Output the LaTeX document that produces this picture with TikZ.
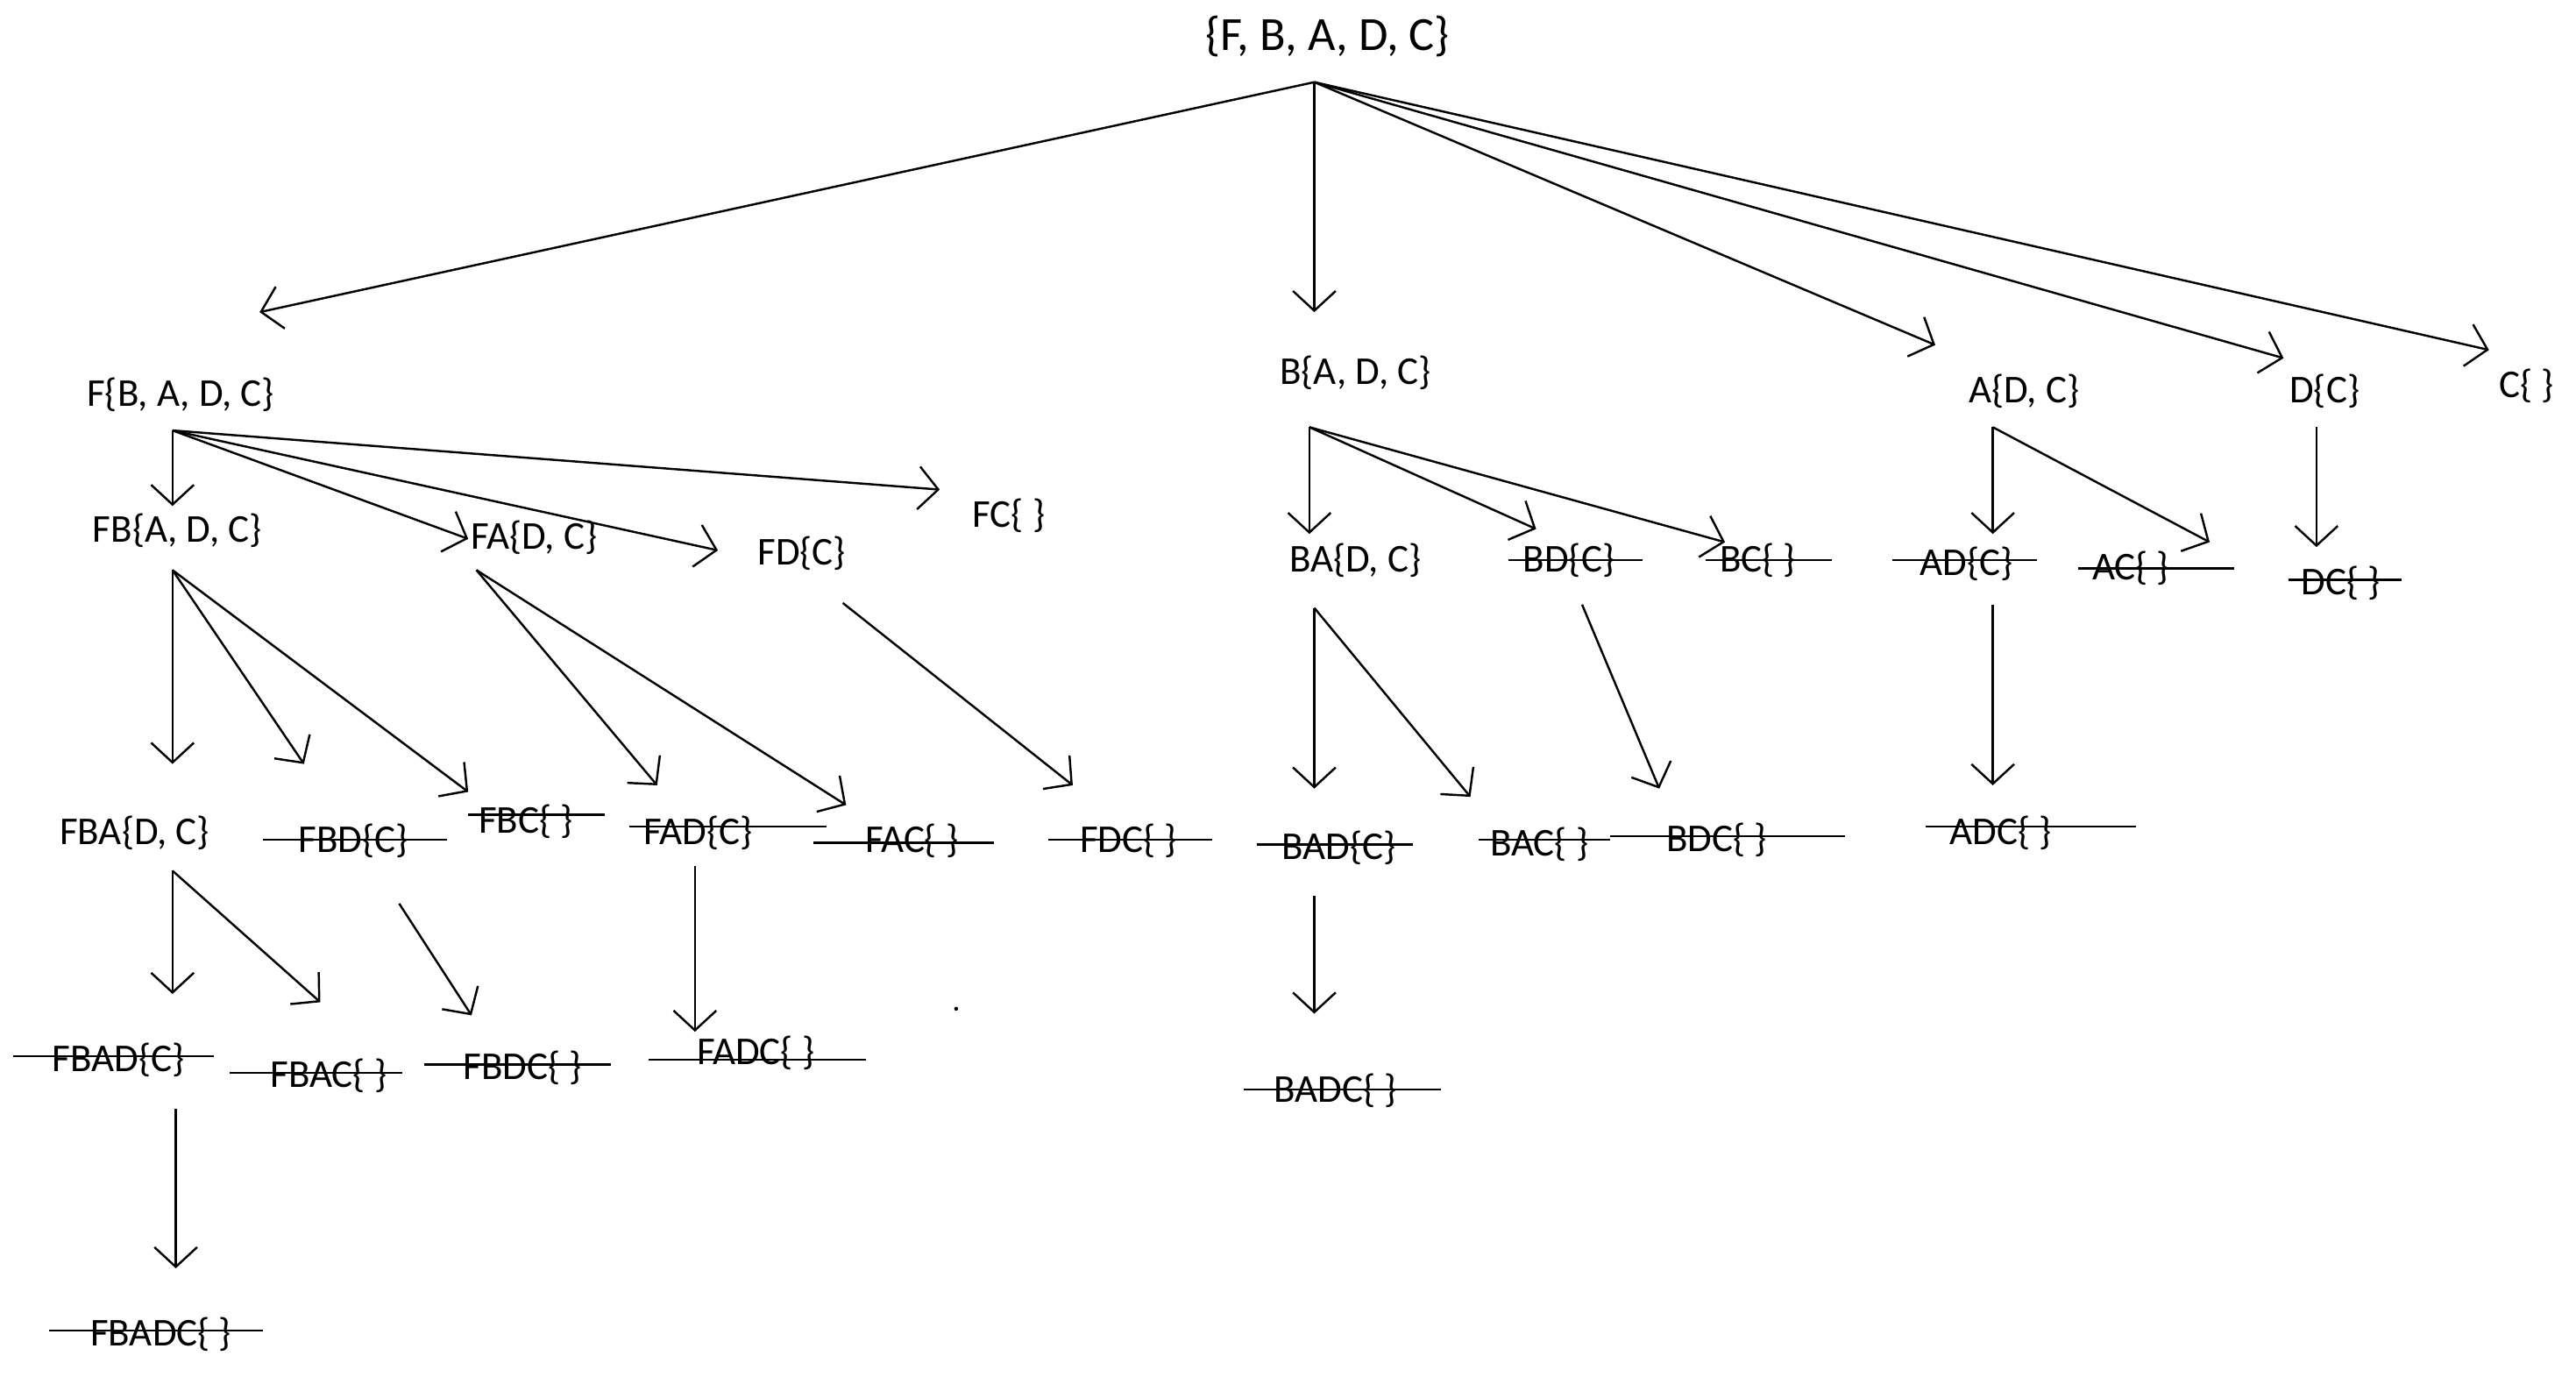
\documentclass[tikz,border=0pt]{standalone}
\usepackage{fontspec}
\setmainfont{Carlito}
\usetikzlibrary{arrows.meta}
\begin{document}
\begin{tikzpicture}[x=1pt,y=-1pt,
  lbl/.style={inner sep=0pt,font=\fontsize{24}{26}\selectfont},
  arr/.style={line width=1.3pt,-{Straight Barb[length=12pt,width=26pt,line width=1.3pt]}},
  strike/.style={line width=1.3pt}]
\useasboundingbox (0,0) rectangle (1568,838);
% nodes
\node[lbl,font=\fontsize{29}{31}\selectfont] (root) at (808,22) {\{F, B, A, D, C\}};
\node[lbl] (F) at (110,240) {F\{B, A, D, C\}};
\node[lbl] (B) at (825,227) {B\{A, D, C\}};
\node[lbl] (A) at (1232,238) {A\{D, C\}};
\node[lbl] (D) at (1415,238) {D\{C\}};
\node[lbl] (C) at (1538,235) {C\{ \}};
\node[lbl] (FB) at (108,323) {FB\{A, D, C\}};
\node[lbl] (FA) at (325,327) {FA\{D, C\}};
\node[lbl] (FD) at (488,337) {FD\{C\}};
\node[lbl] (FC) at (614,314) {FC\{ \}};
\node[lbl] (BA) at (825,341) {BA\{D, C\}};
\node[lbl] (BD) at (955,341) {BD\{C\}};
\node[lbl] (BC) at (1070,341) {BC\{ \}};
\node[lbl] (AD) at (1197,343) {AD\{C\}};
\node[lbl] (AC) at (1297,346) {AC\{ \}};
\node[lbl] (DC) at (1425,355) {DC\{ \}};
\node[lbl] (FBA) at (82,507) {FBA\{D, C\}};
\node[lbl] (FBD) at (215,512) {FBD\{C\}};
\node[lbl] (FBC) at (320,500) {FBC\{ \}};
\node[lbl] (FAD) at (425,507) {FAD\{C\}};
\node[lbl] (FAC) at (555,512) {FAC\{ \}};
\node[lbl] (FDC) at (687,512) {FDC\{ \}};
\node[lbl] (BAD) at (815,516) {BAD\{C\}};
\node[lbl] (BAC) at (937,514) {BAC\{ \}};
\node[lbl] (BDC) at (1045,511) {BDC\{ \}};
\node[lbl] (ADC) at (1218,507) {ADC\{ \}};
\node[lbl] (FBAD) at (72,645) {FBAD\{C\}};
\node[lbl] (FBAC) at (200,655) {FBAC\{ \}};
\node[lbl] (FBDC) at (318,650) {FBDC\{ \}};
\node[lbl] (FADC) at (460,641) {FADC\{ \}};
\node[lbl] (BADC) at (813,664) {BADC\{ \}};
\node[lbl] (FBADC) at (98,812) {FBADC\{ \}};
\fill (582,614) circle (1.2pt);
% connector coordinates
\coordinate (oR) at (800,50);
\coordinate (oF) at (105,262);
\coordinate (oB) at (797,260);
\coordinate (oA) at (1213,260);
\coordinate (oD) at (1410,260);
\coordinate (oFB) at (105,347);
\coordinate (oFA) at (290,347);
\coordinate (oFD) at (513,367);
\coordinate (oBA) at (800,370);
\coordinate (oBD) at (963,368);
\coordinate (oAD) at (1213,368);
\coordinate (oFBA) at (105,530);
\coordinate (oFBD) at (243,550);
\coordinate (oFAD) at (423,527);
\coordinate (oBAD) at (800,545);
\coordinate (oFBAD) at (107,675);
\coordinate (tF) at (158,190);
\coordinate (tB) at (800,190);
\coordinate (tA) at (1178,210);
\coordinate (tD) at (1390,218);
\coordinate (tC) at (1515,213);
\coordinate (tFB) at (105,308);
\coordinate (tFA) at (285,328);
\coordinate (tFD) at (437,335);
\coordinate (tFC) at (572,298);
\coordinate (tBA) at (797,325);
\coordinate (tBD) at (935,322);
\coordinate (tBC) at (1050,330);
\coordinate (tAD) at (1213,325);
\coordinate (tAC) at (1345,330);
\coordinate (tDC) at (1410,333);
\coordinate (tFBA) at (105,465);
\coordinate (tFBD) at (185,465);
\coordinate (tFBC) at (285,482);
\coordinate (tFAD) at (400,478);
\coordinate (tFAC) at (515,490);
\coordinate (tFDC) at (653,478);
\coordinate (tBAD) at (800,480);
\coordinate (tBAC) at (895,485);
\coordinate (tBDC) at (1010,480);
\coordinate (tADC) at (1213,478);
\coordinate (tFBAD) at (105,605);
\coordinate (tFBAC) at (195,610);
\coordinate (tFBDC) at (287,618);
\coordinate (tFADC) at (423,628);
\coordinate (tBADC) at (800,617);
\coordinate (tFBADC) at (107,772);
% arrows
\foreach \a/\b in {oR/tF,oR/tB,oR/tA,oR/tD,oR/tC,oF/tFB,oF/tFA,oF/tFD,oF/tFC,
  oB/tBA,oB/tBD,oB/tBC,oA/tAD,oA/tAC,oD/tDC,oFB/tFBA,oFB/tFBD,oFB/tFBC,
  oFA/tFAD,oFA/tFAC,oFD/tFDC,oBA/tBAD,oBA/tBAC,oBD/tBDC,oAD/tADC,
  oFBA/tFBAD,oFBA/tFBAC,oFBD/tFBDC,oFAD/tFADC,oBAD/tBADC,oFBAD/tFBADC}
  \draw[arr] (\a) -- (\b);
% strike-throughs
\foreach \xa/\xb/\yy in {918/1000/341, 1038/1115/341, 1152/1240/341, 1265/1360/346,
  1393/1462/353, 160/272/511, 285/368/496, 383/503/503, 495/605/513, 638/738/511,
  765/860/514, 900/980/511, 980/1123/509, 1172/1300/503, 8/130/643, 140/245/653,
  258/372/648, 395/527/645, 757/877/663, 30/160/810}
  \draw[strike] (\xa,\yy) -- (\xb,\yy);
\end{tikzpicture}
\end{document}
